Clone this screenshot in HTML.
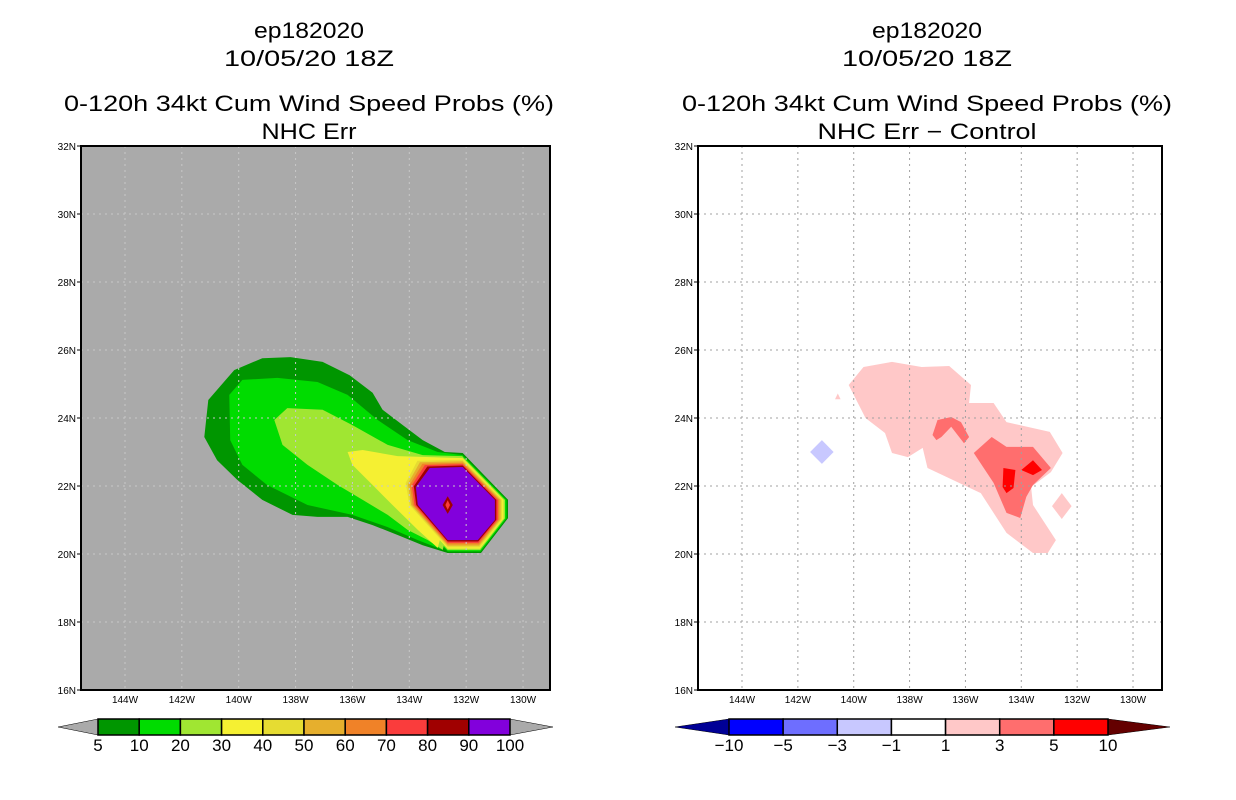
<!DOCTYPE html>
<html><head><meta charset="utf-8"><style>
html,body{margin:0;padding:0;background:#fff;}
svg{display:block;font-family:"Liberation Sans",sans-serif;}
</style></head><body>
<svg id="chart" width="1236" height="800" viewBox="0 0 1236 800" xmlns="http://www.w3.org/2000/svg"></svg>
<script>
// ---- data ----
const lonTicks = [144,142,140,138,136,134,132,130];
const latTicks = [32,30,28,26,24,22,20,18,16];
const probLevels = [5,10,20,30,40,50,60,70,80,90,100];
const probColors = ["#009600","#00dc00","#a0e632","#f5f032","#e6dc32","#e6af2d","#f08228","#fa3c3c","#a00000","#8200dc"];
const diffLevels = [-10,-5,-3,-1,1,3,5,10];
const diffColors = ["#000096","#0000ff","#6e6eff","#c8c8ff","#ffffff","#ffc8c8","#ff6e6e","#ff0000","#640000"];
// left tails [lon(W),lat]
const tail5 = [[141.21,23.44],[141.07,24.53],[140.16,25.41],[139.17,25.76],[138.18,25.79],[137.05,25.65],[136.10,25.26],[135.29,24.74],[134.94,24.24],[134.23,23.79],[133.53,23.35],[132.75,23.00],[132.12,22.97],[130.53,21.59],[130.53,21.06],[131.48,20.03],[132.65,20.03],[133.53,20.26],[134.41,20.56],[135.29,20.85],[136.17,21.09],[137.23,21.09],[138.11,21.15],[139.17,21.59],[140.05,22.18],[140.76,22.76]];
const tail10 = [[140.33,24.68],[139.87,25.12],[138.64,25.18],[137.23,25.06],[136.17,24.68],[135.11,23.94],[134.06,23.35],[133.00,23.00],[132.12,22.91],[132.82,20.12],[133.70,20.41],[134.76,20.79],[136.00,21.15],[137.58,21.44],[139.00,22.03],[139.87,22.62],[140.30,23.35]];
const tail20 = [[138.75,23.94],[138.29,24.29],[137.05,24.24],[136.00,23.79],[134.76,23.21],[133.53,22.91],[132.12,22.88],[132.82,20.12],[133.35,20.41],[134.06,20.71],[134.76,21.15],[135.64,21.59],[136.52,22.03],[137.58,22.62],[138.46,23.21]];
const tail30 = [[136.17,23.00],[135.64,23.06],[134.41,22.88],[132.12,22.82],[133.00,20.18],[133.70,20.71],[134.59,21.44],[135.29,22.03],[136.00,22.62]];
const coreOuter = [[134.06,22.91],[132.12,22.94],[130.53,21.59],[130.53,21.06],[131.48,20.03],[132.65,20.03],[134.23,21.44],[134.41,22.18]];
const coreInner = [[133.28,22.53],[132.12,22.56],[130.99,21.59],[130.99,21.00],[131.59,20.41],[132.65,20.41],[133.70,21.44],[133.77,21.97]];
const peak80 = [[132.65,21.70],[132.47,21.44],[132.65,21.18],[132.83,21.44]];
const peak70 = [[132.65,21.58],[132.57,21.44],[132.65,21.30],[132.73,21.44]];
// right diff shapes
const diffPos1 = [[140.18,24.97],[139.65,25.50],[138.63,25.65],[137.57,25.50],[136.58,25.53],[135.80,24.97],[135.87,24.44],[134.99,24.44],[134.53,23.88],[132.98,23.59],[132.52,22.97],[132.94,22.41],[133.65,21.97],[133.58,21.44],[132.76,20.41],[133.05,20.03],[133.58,20.03],[134.53,20.62],[135.45,21.79],[137.36,22.53],[137.53,23.12],[138.06,22.85],[138.63,22.97],[138.88,23.56],[139.58,24.00]];
const diffPos1b = [[132.55,21.79],[132.20,21.41],[132.55,21.03],[132.90,21.41]];
const diffPos1c = [[140.57,24.72],[140.47,24.55],[140.67,24.55]];
const diffPos3a = [[137.18,23.50],[137.00,23.94],[136.51,24.03],[136.16,23.88],[135.87,23.44],[136.05,23.26],[136.51,23.74],[136.86,23.44],[137.04,23.35]];
const diffPos3b = [[135.70,22.97],[135.06,23.44],[134.53,23.15],[133.58,23.15],[132.94,22.53],[133.58,22.03],[133.82,21.68],[134.04,21.06],[134.53,21.21],[134.99,22.09]];
const diffPos5a = [[134.64,22.53],[134.21,22.47],[134.28,21.94],[134.53,21.79],[134.67,21.97]];
const diffPos5b = [[134.00,22.47],[133.58,22.76],[133.26,22.47],[133.58,22.32]];
const diffNeg1 = [[141.14,23.35],[140.72,23.00],[141.14,22.65],[141.56,23.00]];

// ---- drawing ----
const NS="http://www.w3.org/2000/svg";
const svg=document.getElementById('chart');
function el(tag,attrs,parent){const e=document.createElementNS(NS,tag);for(const k in attrs)e.setAttribute(k,attrs[k]);(parent||svg).appendChild(e);return e;}
const yTop=146,yBot=690;
function yScale(lat){return yTop+(32-lat)*(yBot-yTop)/16;}
const L={x0:125,k:28.43,left:81,right:550};
const R={x0:742,k:27.93,left:698,right:1162};
function xs(P,lon){return P.x0+(144-lon)*P.k;}
function pts(P,arr){return arr.map(p=>xs(P,p[0]).toFixed(1)+","+yScale(p[1]).toFixed(1)).join(" ");}

function titles(cx,sub,subW){
  const lines=[["ep182020",38,110],["10/05/20 18Z",66,170],["0-120h 34kt Cum Wind Speed Probs (%)",111,490],[sub,139,subW]];
  const names=["storm-id-title","date-title","product-title","subtitle"];
  lines.forEach((l,i)=>{
    const t=el('text',{x:cx,y:l[1],'text-anchor':'middle','font-size':22,'font-family':'"Liberation Sans",sans-serif',fill:'#000'});
    t.setAttribute('textLength',l[2]);t.setAttribute('lengthAdjust','spacingAndGlyphs');
    
    
    t.textContent=l[0];
  });
}
function axes(P,bg,gridColor,dash,name){
  const g=el('g',{});
  
  
  const clipId=name+'-clip';
  const cp=el('clipPath',{id:clipId},g);
  el('rect',{x:P.left,y:yTop,width:P.right-P.left,height:yBot-yTop},cp);
  const bgRect=el('rect',{x:P.left,y:yTop,width:P.right-P.left,height:yBot-yTop,fill:bg},g);
  
  
  const body=el('g',{'clip-path':'url(#'+clipId+')'},g);
  return {g,body,P,gridColor,dash};
}
function frame(A){
  const {g,P,gridColor,dash}=A;
  lonTicks.forEach(v=>{const x=xs(P,v);
    const gl=el('line',{x1:x,y1:yTop,x2:x,y2:yBot,stroke:gridColor,'stroke-width':1,'stroke-dasharray':dash},g);
    
    
    const t=el('text',{x:x,y:yBot+13,'text-anchor':'middle','font-size':10,fill:'#000'},g);
    
    
    t.textContent=v+'W';});
  latTicks.forEach(v=>{const y=yScale(v);
    if(v<32&&v>16){const gl=el('line',{x1:P.left,y1:y,x2:P.right,y2:y,stroke:gridColor,'stroke-width':1,'stroke-dasharray':dash},g);
      
      }
    el('line',{x1:P.left-4,y1:y,x2:P.left,y2:y,stroke:'#000','stroke-width':1},g);
    const t=el('text',{x:P.left-5,y:y+4,'text-anchor':'end','font-size':10,fill:'#000'},g);
    
    
    t.textContent=v+'N';});
  const f=el('rect',{x:P.left,y:yTop,width:P.right-P.left,height:yBot-yTop,fill:'none',stroke:'#000','stroke-width':2},g);
  
  
}
function poly(A,arr,color,name){
  const p=el('polygon',{points:pts(A.P,arr),fill:color},A.body);
  
  
}

// Left panel
titles(309,"NHC Err",95);
const A=axes(L,'#aaaaaa','#c8c8c8','2,4','prob-panel');
const tails=[tail5,tail10,tail20,tail30];
for(let i=0;i<probColors.length;i++){
  if(i<tails.length) poly(A,tails[i],probColors[i],'contour-'+probLevels[i]+'-tail');
  const t=i/(probColors.length-1);
  const oct=coreOuter.map((p,j)=>[p[0]+(coreInner[j][0]-p[0])*t,p[1]+(coreInner[j][1]-p[1])*t]);
  poly(A,oct,probColors[i],'contour-'+probLevels[i]+'-core');
}
poly(A,peak80,probColors[8],'contour-80-peak');
poly(A,peak70,probColors[7],'contour-70-peak');
frame(A);

// Right panel
titles(927,"NHC Err \u2212 Control",219);
const B=axes(R,'#ffffff','#a0a0a0','2,4','diff-panel');
poly(B,diffPos1,diffColors[5],'diff-1to3-main');
poly(B,diffPos1b,diffColors[5],'diff-1to3-diamond');
poly(B,diffPos1c,diffColors[5],'diff-1to3-small');
poly(B,diffPos3a,diffColors[6],'diff-3to5-west');
poly(B,diffPos3b,diffColors[6],'diff-3to5-east');
poly(B,diffPos5a,diffColors[7],'diff-5to10-west');
poly(B,diffPos5b,diffColors[7],'diff-5to10-east');
poly(B,diffNeg1,diffColors[3],'diff-neg1to3');
frame(B);

// colorbars
function colorbar(x0,x1,tipL,tipR,levels,colors,name,labelFmt){
  const g=el('g',{});
  
  
  const y0=719,y1=735,ym=727,n=levels.length-1;
  const w=(x1-x0)/n;
  const l=el('polygon',{points:`${tipL},${ym} ${x0},${y0} ${x0},${y1}`,fill:colors[0],stroke:'#000','stroke-width':0.5},g);
  
  
  const r=el('polygon',{points:`${tipR},${ym} ${x1},${y0} ${x1},${y1}`,fill:colors[colors.length-1],stroke:'#000','stroke-width':0.5},g);
  
  
  const off=(colors.length>n)?1:0;
  for(let i=0;i<n;i++){
    const b=el('rect',{x:x0+i*w,y:y0,width:w,height:y1-y0,fill:colors[i+off],stroke:'#000','stroke-width':1.5},g);
    
    
  }
  levels.forEach((v,i)=>{
    const t=el('text',{x:x0+i*w,y:751,'text-anchor':'middle','font-size':17,'font-family':'"Liberation Sans",sans-serif',fill:'#000'},g);
    
    
    t.textContent=labelFmt(v);
  });
}
(function(){
  const cols=["#aaaaaa"].concat(probColors).concat(["#aaaaaa"]);
  colorbar(98,510,58,553,probLevels,cols,'prob-colorbar',v=>String(v));
})();
colorbar(729,1108,675,1170,diffLevels,diffColors,'diff-colorbar',v=>v<0?'\u2212'+(-v):String(v));
</script>
</body></html>
